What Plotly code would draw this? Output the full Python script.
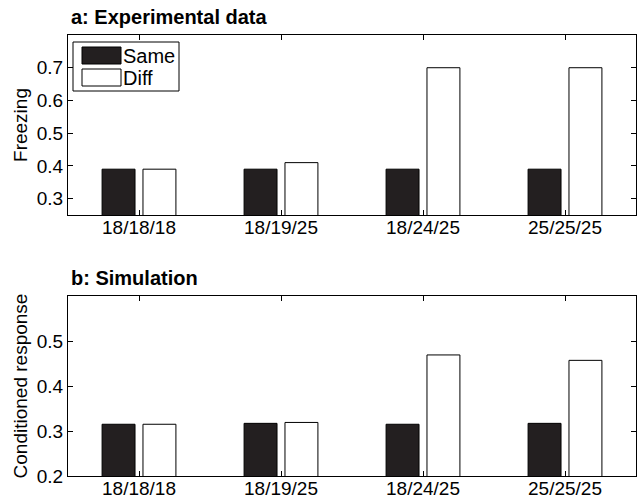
import plotly.graph_objects as go
from plotly.subplots import make_subplots

categories = ["18/18/18", "18/19/25", "18/24/25", "25/25/25"]
series_names = ["Same", "Diff"]
exp_same = [0.39, 0.39, 0.39, 0.39]
exp_diff = [0.39, 0.41, 0.70, 0.70]
sim_same = [0.315, 0.317, 0.315, 0.317]
sim_diff = [0.315, 0.319, 0.469, 0.457]
panel_titles = ["a: Experimental data", "b: Simulation"]
y_titles = ["Freezing", "Conditioned response"]
exp_yticks = [0.3, 0.4, 0.5, 0.6, 0.7]
sim_yticks = [0.2, 0.3, 0.4, 0.5]

DARK = "#231f20"
FONT = "Liberation Sans, Arial, Helvetica, sans-serif"
FS = 19

fig = make_subplots(rows=2, cols=1)

for row, (same, diff) in enumerate([(exp_same, exp_diff), (sim_same, sim_diff)], start=1):
    fig.add_trace(go.Bar(x=categories, y=same, name=series_names[0], width=0.232, offset=-0.26,
                         marker=dict(color=DARK, line=dict(color="black", width=1)),
                         showlegend=False), row=row, col=1)
    fig.add_trace(go.Bar(x=categories, y=diff, name=series_names[1], width=0.232, offset=0.028,
                         marker=dict(color="white", line=dict(color="black", width=1)),
                         showlegend=False), row=row, col=1)

top_dom = [(476 - 215) / 441, 1.0]
bot_dom = [0.0, (476 - 296) / 441]

axis_common = dict(showline=True, linecolor="black", linewidth=1, mirror="allticks",
                   ticks="inside", ticklen=5, tickcolor="black", showgrid=False, zeroline=False,
                   automargin=False,
                   tickfont=dict(size=FS, color="black", family=FONT))

fig.update_xaxes(**axis_common)
fig.update_yaxes(**axis_common)
fig.update_xaxes(range=[-0.5, 3.5], ticklabelstandoff=-5)
fig.update_yaxes(range=[0.25, 0.8], tickvals=exp_yticks, tickformat=".1f", domain=top_dom,
                 title=dict(text=y_titles[0], font=dict(size=FS, family=FONT, color="black"), standoff=4),
                 row=1, col=1)
fig.update_yaxes(range=[0.2, 0.6], tickvals=sim_yticks, tickformat=".1f", domain=bot_dom,
                 title=dict(text=y_titles[1], font=dict(size=FS, family=FONT, color="black"), standoff=4),
                 row=2, col=1)

fig.update_layout(
    width=639, height=501,
    margin=dict(l=68, r=3, t=35, b=25, autoexpand=False),
    plot_bgcolor="white", paper_bgcolor="white",
    barmode="overlay",
    font=dict(family=FONT, color="black", size=FS),
)

# panel titles
fig.add_annotation(text="<b>" + panel_titles[0] + "</b>", xref="paper", yref="paper",
                   x=0.003, y=(476 - 17) / 441, xanchor="left", yanchor="middle", borderpad=0,
                   showarrow=False, font=dict(size=20, family=FONT, color="black"))
fig.add_annotation(text="<b>" + panel_titles[1] + "</b>", xref="paper", yref="paper",
                   x=0.003, y=(476 - 278) / 441, xanchor="left", yanchor="middle", borderpad=0,
                   showarrow=False, font=dict(size=20, family=FONT, color="black"))

# legend (drawn in axis-domain coordinates of the top panel)
def px_x(px):
    return (px - 68) / 568

def px_y(py):
    return (215 - py) / 180

fig.add_shape(type="rect", xref="x domain", yref="y domain",
              x0=px_x(73), x1=px_x(179), y0=px_y(91), y1=px_y(42),
              line=dict(color="black", width=1), fillcolor="white", layer="above")
fig.add_shape(type="rect", xref="x domain", yref="y domain",
              x0=px_x(82), x1=px_x(121), y0=px_y(64), y1=px_y(47),
              line=dict(color="black", width=1), fillcolor=DARK, layer="above")
fig.add_shape(type="rect", xref="x domain", yref="y domain",
              x0=px_x(82), x1=px_x(121), y0=px_y(86), y1=px_y(69),
              line=dict(color="black", width=1), fillcolor="white", layer="above")
fig.add_annotation(text=series_names[0], xref="x domain", yref="y domain",
                   x=px_x(122), y=px_y(56), xanchor="left", yanchor="middle", borderpad=0,
                   showarrow=False, font=dict(size=20, family=FONT, color="black"))
fig.add_annotation(text=series_names[1], xref="x domain", yref="y domain",
                   x=px_x(122), y=px_y(78), xanchor="left", yanchor="middle", borderpad=0,
                   showarrow=False, font=dict(size=20, family=FONT, color="black"))

fig.write_html("out.html", config={"displayModeBar": False},
               post_script="document.body.style.margin='0px';document.body.style.overflow='hidden';")
